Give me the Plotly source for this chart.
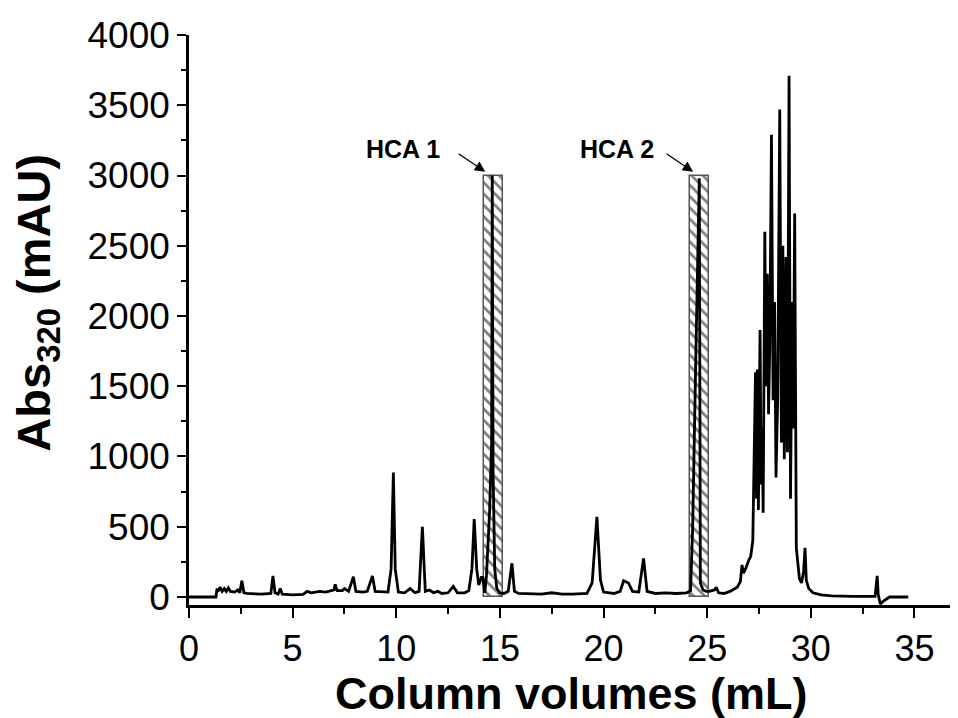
import plotly.graph_objects as go

# Chromatogram trace (column volume, mL) vs absorbance at 320 nm (mAU)
volume = [0, 1.3, 1.35, 1.4, 1.5, 1.6, 1.7, 1.8, 1.9, 2.0, 2.2, 2.35, 2.45, 2.55, 2.65, 2.8,
          3.5, 3.95, 4.05, 4.15, 4.3, 4.4, 4.5, 5.0, 5.5, 5.7, 5.9, 6.3, 6.6, 7.0, 7.05, 7.15,
          7.4, 7.5, 7.7, 7.93, 8.05, 8.4, 8.6, 8.85, 8.98, 9.3, 9.6, 9.75, 9.86, 9.95, 10.1,
          10.4, 10.67, 10.9, 11.1, 11.26, 11.4, 11.6, 11.8, 12.0, 12.2, 12.5, 12.75, 12.95,
          13.3, 13.5, 13.65, 13.76, 13.88, 13.98, 14.1, 14.17, 14.27, 14.35, 14.5, 14.6, 14.63,
          14.67, 14.75, 14.85, 15.0, 15.2, 15.4, 15.58, 15.7, 15.9, 16.5, 17.0, 17.5, 18.0,
          18.5, 19.2, 19.45, 19.68, 19.85, 20.0, 20.5, 20.8, 20.97, 21.2, 21.4, 21.7, 21.93,
          22.1, 22.5, 23.0, 23.5, 24.0, 24.2, 24.3, 24.45, 24.62, 24.67, 24.8, 24.95, 25.1,
          25.35, 25.44, 25.55, 25.8, 26.1, 26.3, 26.45, 26.6, 26.68, 26.75, 26.85, 27.0, 27.1,
          27.2, 27.28, 27.33, 27.38, 27.42, 27.47, 27.55, 27.6, 27.65, 27.7, 27.78, 27.84,
          27.9, 27.96, 28.02, 28.1, 28.18, 28.25, 28.32, 28.4, 28.5, 28.58, 28.65, 28.72,
          28.8, 28.87, 28.95, 29.02, 29.1, 29.15, 29.22, 29.3, 29.38, 29.45, 29.55, 29.65,
          29.72, 29.78, 29.9, 30.1, 30.5, 31.0, 32.0, 33.1, 33.2, 33.25, 33.35, 33.5, 33.8, 34.7]
absorbance = [0, 0, 60, 40, 70, 40, 60, 40, 65, 40, 35, 50, 30, 115, 30, 25,
              20, 25, 150, 30, 20, 60, 20, 15, 18, 40, 30, 40, 35, 50, 90, 45,
              45, 60, 40, 145, 40, 35, 40, 150, 40, 35, 35, 200, 885, 200, 35,
              30, 60, 30, 40, 500, 40, 50, 30, 40, 25, 30, 75, 30,
              30, 45, 200, 555, 200, 85, 140, 140, 30, 150, 600, 1100, 3000,
              900, 200, 60, 30, 25, 40, 240, 40, 25, 25, 20, 30, 20,
              20, 25, 100, 570, 120, 35, 25, 40, 116, 100, 40, 35, 275,
              40, 25, 30, 25, 30, 45, 500, 1700, 2980, 100, 50, 40, 40,
              50, 69, 30, 25, 40, 55, 70, 110, 228, 170, 200, 260, 290,
              400, 1000, 1600, 700, 1620, 620, 1900, 800, 1200, 600, 2600, 1500,
              2300, 1300, 1800, 3290, 1400, 2100, 850, 1400, 3470, 1100, 2500, 980,
              2420, 1030, 3710, 700, 2100, 1200, 2730, 350, 200, 130, 100, 180,
              350, 120, 60, 30, 15, 8, 5, 5, 150, 20, -50, -30, 0, 0]

# Collected fractions (hatched boxes)
fraction_labels = ["HCA 1", "HCA 2"]
fraction_start = [14.25, 24.19]
fraction_end = [15.13, 25.07]
fraction_top = [3000, 3000]

x_ticks = [0, 5, 10, 15, 20, 25, 30, 35]
y_ticks = [0, 500, 1000, 1500, 2000, 2500, 3000, 3500, 4000]

FONT = "Liberation Sans, Arial, sans-serif"

fig = go.Figure()

fig.add_trace(go.Bar(
    x=[(s + e) / 2 for s, e in zip(fraction_start, fraction_end)],
    y=fraction_top,
    width=[e - s for s, e in zip(fraction_start, fraction_end)],
    marker=dict(color="white",
                line=dict(color="#555555", width=1.5),
                pattern=dict(shape="\\", fgcolor="black", bgcolor="white",
                             size=8, solidity=0.35)),
    showlegend=False, hoverinfo="skip",
))

fig.add_trace(go.Scatter(
    x=volume, y=absorbance, mode="lines",
    line=dict(color="black", width=2.8),
    showlegend=False,
))

# arrows and labels
arrow_tip_x = [14.29, 24.32]
for lab, tx in zip(fraction_labels, arrow_tip_x):
    fig.add_annotation(x=tx, y=3027, ax=-28, ay=-19, xref="x", yref="y",
                       axref="pixel", ayref="pixel", text="", showarrow=True,
                       arrowhead=2, arrowsize=1.6, arrowwidth=1.3, arrowcolor="black")
label_x = [10.31, 20.65]
for lab, lx in zip(fraction_labels, label_x):
    fig.add_annotation(x=lx, y=3188, xref="x", yref="y", text="<b>%s</b>" % lab,
                       xanchor="center", yanchor="middle",
                       showarrow=False, font=dict(family=FONT, size=25, color="black"))

# axis titles
fig.add_annotation(x=0.498, y=-0.156, xref="paper", yref="paper",
                   xanchor="center", yanchor="middle",
                   text="<b>Column volumes (mL)</b>", showarrow=False,
                   font=dict(family=FONT, size=45, color="black"))
fig.add_annotation(x=-0.198, y=0.53, xref="paper", yref="paper",
                   xanchor="center", yanchor="middle",
                   text="<b>Abs<sub>320</sub> (mAU)</b>", showarrow=False, textangle=-90,
                   font=dict(family=FONT, size=47, color="black"))

# page body has an 8px margin, so the figure is laid out 8px smaller and offset
fig.update_layout(
    width=950, height=710,
    margin=dict(l=181, r=0, t=27, b=113, autoexpand=False),
    paper_bgcolor="white", plot_bgcolor="white",
    barmode="overlay", bargap=0,
    font=dict(family=FONT, color="black"),
)
fig.update_xaxes(range=[0, 37.1], showgrid=False, zeroline=False, automargin=False,
                 showline=True, linecolor="black", linewidth=2.5,
                 ticks="outside", ticklen=10, tickwidth=2.2, tickcolor="black",
                 tickvals=x_ticks, ticktext=[str(v) for v in x_ticks],
                 tickfont=dict(family=FONT, size=36, color="black"),
                 minor=dict(dtick=2.5, tick0=0, ticks="outside", ticklen=6,
                            tickwidth=2, tickcolor="black"))
fig.update_yaxes(range=[-57, 4000], showgrid=False, zeroline=False, automargin=False,
                 showline=True, linecolor="black", linewidth=2.5,
                 ticks="outside", ticklen=9, tickwidth=2.2, tickcolor="black",
                 tickvals=y_ticks, ticktext=[str(v) for v in y_ticks],
                 tickfont=dict(family=FONT, size=37, color="black"),
                 minor=dict(dtick=250, tick0=0, ticks="outside", ticklen=5,
                            tickwidth=2, tickcolor="black"))

fig.write_html("out.html")
